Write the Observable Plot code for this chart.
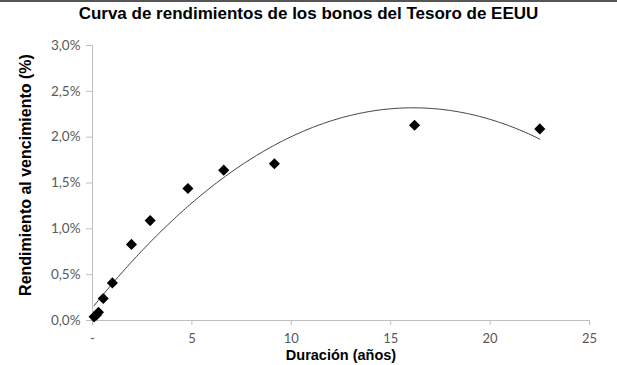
<!DOCTYPE html>
<html>
<head>
<meta charset="utf-8">
<script src="https://cdn.jsdelivr.net/npm/d3@7"></script>
<script src="https://cdn.jsdelivr.net/npm/@observablehq/plot@0.6"></script>
<style>
  html, body { margin: 0; padding: 0; background: #fff; }
  #chart { position: relative; width: 617px; height: 365px; }
  #chart svg { position: absolute; left: 0; top: 0; }
  #topline { position: absolute; left: 0; top: 0; width: 617px; height: 2px; background: #555; }
  #title { position: absolute; left: 0; top: 4px; width: 617px; text-align: center;
    font-family: "Liberation Sans", Arial, sans-serif; font-weight: bold; font-size: 17px; color: #000; }
</style>
</head>
<body>
<div id="chart"><div id="topline"></div><div id="title">Curva de rendimientos de los bonos del Tesoro de EEUU</div></div>
<script>
const title = "Curva de rendimientos de los bonos del Tesoro de EEUU";
const xLabel = "Duración (años)";
const yLabel = "Rendimiento al vencimiento (%)";
const duration = [0.08, 0.2, 0.3, 0.54, 1.0, 1.96, 2.9, 4.8, 6.6, 9.15, 16.2, 22.5];
const yieldPct = [0.04, 0.06, 0.09, 0.24, 0.41, 0.83, 1.09, 1.44, 1.64, 1.71, 2.13, 2.09];
const xTicks = [0, 5, 10, 15, 20, 25];
const yTicks = [0, 0.5, 1.0, 1.5, 2.0, 2.5, 3.0];

const data = duration.map((d, i) => ({x: d, y: yieldPct[i]}));

// Quadratic least-squares trendline (as Excel's polynomial trendline)
function polyFit(xs, ys) {
  const n = xs.length;
  let s = [0,0,0,0,0], t = [0,0,0];
  for (let i = 0; i < n; i++) {
    const x = xs[i], y = ys[i];
    for (let k = 0; k < 5; k++) s[k] += Math.pow(x, k);
    for (let k = 0; k < 3; k++) t[k] += y * Math.pow(x, k);
  }
  const A = [[s[0], s[1], s[2], t[0]], [s[1], s[2], s[3], t[1]], [s[2], s[3], s[4], t[2]]];
  for (let i = 0; i < 3; i++) {
    let p = i;
    for (let r = i + 1; r < 3; r++) if (Math.abs(A[r][i]) > Math.abs(A[p][i])) p = r;
    [A[i], A[p]] = [A[p], A[i]];
    for (let r = 0; r < 3; r++) if (r !== i) {
      const f = A[r][i] / A[i][i];
      for (let c = i; c < 4; c++) A[r][c] -= f * A[i][c];
    }
  }
  return [A[0][3] / A[0][0], A[1][3] / A[1][1], A[2][3] / A[2][2]];
}
const [c0, c1, c2] = polyFit(duration, yieldPct);
const xmin = d3.min(duration), xmax = d3.max(duration);
const trend = d3.range(0, 201).map(i => {
  const x = xmin + (xmax - xmin) * i / 200;
  return {x, y: c0 + c1 * x + c2 * x * x};
});

const tickFont = "Lato, 'Open Sans', sans-serif";
const plot = Plot.plot({
  width: 617,
  height: 365,
  marginLeft: 92,
  marginRight: 28,
  marginTop: 45,
  marginBottom: 45,
  style: {fontFamily: tickFont, fontSize: "13.5px", color: "#595959", background: "transparent", overflow: "visible"},
  x: {domain: [0, 25], ticks: xTicks, label: null},
  y: {domain: [0, 3], ticks: yTicks, label: null},
  marks: [
    Plot.ruleY([0], {stroke: "#bfbfbf"}),
    Plot.ruleX([0], {stroke: "#bfbfbf"}),
    Plot.axisX({ticks: xTicks, tickSize: 5, tickPadding: 8, stroke: "#bfbfbf",
      tickFormat: d => d === 0 ? "-" : String(d), fill: "#595959", fontSize: 13}),
    Plot.axisY({ticks: yTicks, tickSize: 6, tickPadding: 6, stroke: "#bfbfbf",
      tickFormat: d => d.toFixed(1).replace(".", ",") + "%", fill: "#595959", fontSize: 13.5}),
    Plot.line(trend, {x: "x", y: "y", stroke: "#404040", strokeWidth: 1}),
    Plot.dot(data, {x: "x", y: "y", symbol: "diamond2", r: 5, fill: "#000", stroke: "none"}),
    Plot.text([xLabel], {frameAnchor: "bottom", dy: 39, text: d => d, fontWeight: "bold",
      fontSize: 14.5, fill: "#000", fontFamily: "'Liberation Sans', Arial, sans-serif"}),
    Plot.text([yLabel], {frameAnchor: "left", dx: -67, dy: -8, rotate: -90, textAnchor: "middle", text: d => d, fontWeight: "bold",
      fontSize: 16, fill: "#000", fontFamily: "'Liberation Sans', Arial, sans-serif"})
  ]
});
document.getElementById("chart").appendChild(plot);
</script>
</body>
</html>
